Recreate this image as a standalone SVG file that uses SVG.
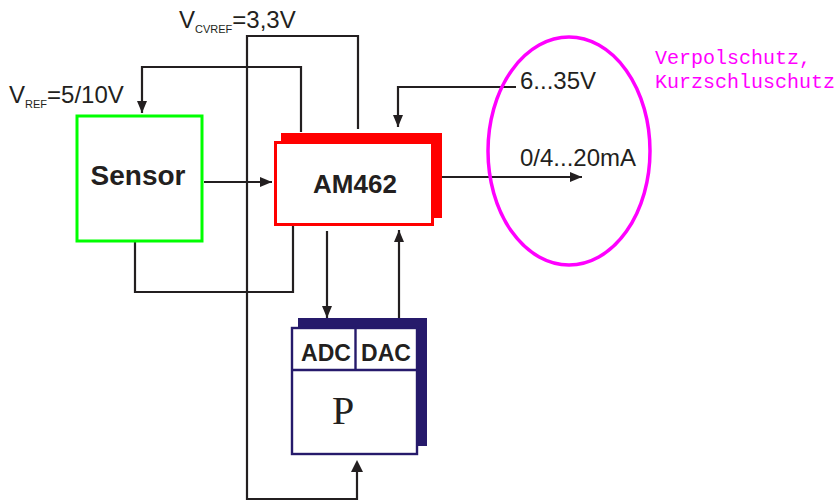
<svg xmlns="http://www.w3.org/2000/svg" width="839" height="501" viewBox="0 0 839 501">
<defs>
<marker id="ah" viewBox="0 0 12 10" refX="12" refY="5" markerWidth="12" markerHeight="10" markerUnits="userSpaceOnUse" orient="auto">
<path d="M0,0 L12,5 L0,10 Z" fill="#231f20"/>
</marker>
</defs>
<style>
.ln{fill:none;stroke:#231f20;stroke-width:2.2}
.arr{marker-end:url(#ah)}
.lbl{font-family:"Liberation Sans",Arial,sans-serif;fill:#231f20;font-size:24px}
.sub{font-size:11px}
.bold{font-family:"Liberation Sans",Arial,sans-serif;font-weight:bold;fill:#231f20}
</style>
<rect width="839" height="501" fill="#fff"/>
<g id="connectors">
<polyline class="ln" points="358,129 358,36 247,36 247,499 357,499 357,472"/>
<polyline class="ln arr" points="301,132 301,67 142,67 142,113"/>
<polyline class="ln arr" points="516,87 398,87 398,127"/>
<line class="ln arr" x1="204" y1="182" x2="272" y2="182"/>
<polyline class="ln" points="135,241 135,292 293,292 293,225"/>
<line class="ln arr" x1="327" y1="231" x2="327" y2="318"/>
<line class="ln arr" x1="399" y1="318" x2="399" y2="230"/>
<line class="ln arr" x1="442" y1="177" x2="582" y2="177"/>
<path d="M351,472 L357,460 L363,472 Z" fill="#231f20"/>
</g>
<g id="sensor">
<rect x="77" y="116" width="125" height="125" fill="#fff" stroke="#00ff00" stroke-width="3"/>
<text class="bold" x="138" y="185" font-size="28" text-anchor="middle">Sensor</text>
</g>
<g id="am462">
<rect x="281" y="133" width="161" height="85" fill="#ff0000"/>
<rect x="275.5" y="142.5" width="157" height="82" fill="#fff" stroke="#ff0000" stroke-width="3"/>
<text class="bold" x="355" y="193" font-size="26" text-anchor="middle">AM462</text>
</g>
<g id="mcu">
<rect x="298" y="318" width="129" height="128" fill="#261a6b"/>
<rect x="292" y="328" width="125" height="126" fill="#fff" stroke="#261a6b" stroke-width="2.4"/>
<line x1="292" y1="370" x2="417" y2="370" stroke="#261a6b" stroke-width="2.4"/>
<line x1="355.5" y1="328" x2="355.5" y2="370" stroke="#261a6b" stroke-width="2.4"/>
<text class="bold" x="326" y="361" font-size="23" text-anchor="middle">ADC</text>
<text class="bold" x="386" y="361" font-size="23" text-anchor="middle">DAC</text>
<text x="343" y="424" font-family="'Liberation Serif','Times New Roman',serif" font-size="40" fill="#231f20" text-anchor="middle">P</text>
</g>
<g id="protection">
<ellipse cx="569" cy="151" rx="81" ry="114" fill="none" stroke="#ff00ff" stroke-width="3.5"/>
<text x="655" y="64" font-family="'Liberation Mono','Courier New',monospace" font-size="20" fill="#ff00ff">Verpolschutz,</text>
<text x="655" y="88" font-family="'Liberation Mono','Courier New',monospace" font-size="20" fill="#ff00ff">Kurzschluschutz</text>
</g>
<g id="labels">
<text class="lbl" x="179" y="28">V<tspan class="sub" dy="5">CVREF</tspan><tspan dy="-5">=3,3V</tspan></text>
<text class="lbl" x="9" y="103">V<tspan class="sub" dy="5">REF</tspan><tspan dy="-5">=5/10V</tspan></text>
<text class="lbl" x="520" y="89">6...35V</text>
<text class="lbl" x="520" y="166">0/4...20mA</text>
</g>
</svg>
